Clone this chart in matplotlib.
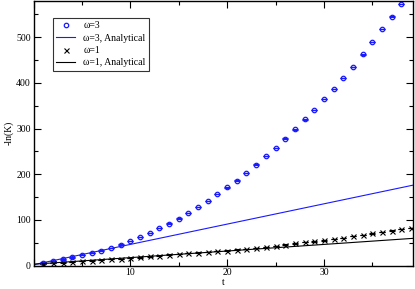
import numpy as np
import matplotlib
matplotlib.use("Agg")
import matplotlib.pyplot as plt
from matplotlib.ticker import MultipleLocator, FuncFormatter
from matplotlib.lines import Line2D

plt.rcParams['font.family'] = ['Liberation Serif', 'DejaVu Serif']

# simulated data, omega = 3 (blue circles)
t3 = np.arange(1, 39)
k3 = [6.5, 10, 13.5, 18, 22.5, 27.5, 33, 39, 46, 54, 62.5, 71, 81.5, 92,
      103, 115, 128, 141, 156, 171, 186, 203, 221, 240, 258, 278, 298,
      320, 341, 364, 386, 410, 435, 462, 490, 518, 545, 573]

# simulated data, omega = 1 (black crosses)
t1 = np.arange(1, 40)
k1 = [3, 5, 6.5, 8, 9.5, 11, 12.5, 14, 15, 16.5, 18, 20, 22, 24, 25.5, 27,
      28.5, 30, 31.5, 33, 35, 36.5, 38.5, 40.5, 43.5, 46, 48.5, 51, 53, 55,
      58.5, 61, 64, 67.5, 70.5, 73.5, 76.5, 79.5, 83]

# analytical lines (end points)
t_an = [0, 39.2]
an3 = [2, 176]
an1 = [3, 59.6]

blue = '#1a1aff'

fig = plt.figure(figsize=(4.15, 2.89), dpi=100)
ax = fig.add_axes([0.081, 0.081, 0.914, 0.917])

ax.errorbar(t3, k3, yerr=0.3, fmt='o', ms=3.2, mfc='none', mec=blue, mew=0.9,
            ecolor=blue, elinewidth=0.8, capsize=2.3, capthick=0.9)
ax.plot(t_an, an3, color=blue, lw=0.8)
ax.errorbar(t1, k1, yerr=0.3, fmt='x', ms=3.6, color='black', mew=0.8,
            ecolor='black', elinewidth=0.8, capsize=2.3, capthick=0.9)
ax.plot(t_an, an1, color='black', lw=0.8)

ax.set_xlim(0, 39.2)
ax.set_ylim(0, 580)
ax.xaxis.set_major_locator(MultipleLocator(10))
ax.xaxis.set_minor_locator(MultipleLocator(5))
ax.yaxis.set_major_locator(MultipleLocator(100))
ax.yaxis.set_minor_locator(MultipleLocator(50))
ax.xaxis.set_major_formatter(FuncFormatter(lambda v, p: '' if v == 0 else '%d' % v))
ax.tick_params(which='both', direction='in', top=True, right=True,
               labelsize=7, width=0.8, pad=2)
ax.tick_params(which='major', length=5)
ax.tick_params(which='minor', length=2.8)
for s in ax.spines.values():
    s.set_linewidth(1.0)

ax.set_xlabel('t', fontsize=7, labelpad=0.5)
ax.set_ylabel('-ln(K)', fontsize=7, labelpad=1.5)

handles = [
    Line2D([], [], ls='none', marker='o', ms=3.2, mfc='none', mec=blue, mew=0.9),
    Line2D([], [], color=blue, lw=0.8),
    Line2D([], [], ls='none', marker='x', ms=3.6, color='black', mew=0.8),
    Line2D([], [], color='black', lw=0.8),
]
labels = ['ω=3', 'ω=3, Analytical', 'ω=1', 'ω=1, Analytical']
leg = ax.legend(handles, labels, loc='upper left', bbox_to_anchor=(0.05, 0.935),
                fontsize=7, frameon=True, fancybox=False, edgecolor='black',
                handlelength=2.0, labelspacing=0.35, borderpad=0.35,
                handletextpad=0.8, borderaxespad=0)
leg.get_frame().set_linewidth(0.8)

fig.savefig('out.png', dpi=100)
